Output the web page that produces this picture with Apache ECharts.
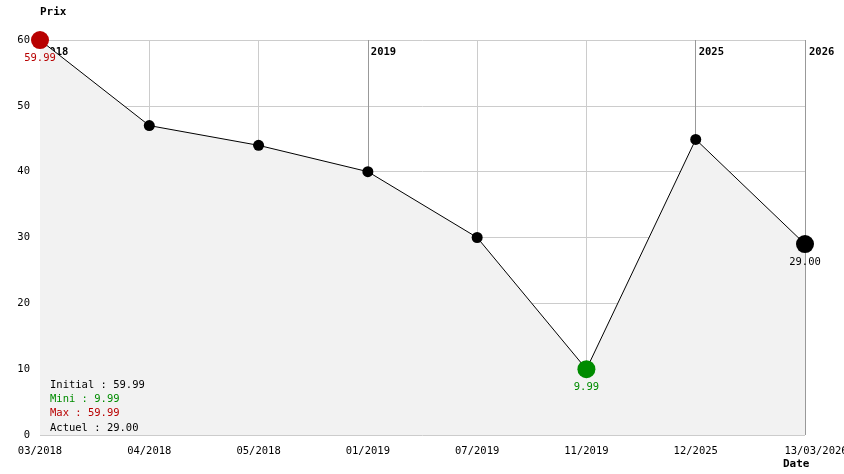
<!DOCTYPE html>
<html><head><meta charset="utf-8">
<script src="https://cdn.jsdelivr.net/npm/echarts@6/dist/echarts.min.js"></script>
<style>html,body{margin:0;padding:0;background:#fff}#c{width:844px;height:474px}</style>
</head><body><div id="c"></div>
<script>
const categories = ['03/2018','04/2018','05/2018','01/2019','07/2019','11/2019','12/2025','13/03/2026'];
const prices = [59.99, 47, 44, 40, 30, 9.99, 44.9, 29.00];
const yearLabels = ['2018','','','2019','','','2025','2026'];
const yTicks = [0,10,20,30,40,50,60];
const stats = {initial: '59.99', mini: '9.99', max: '59.99', actuel: '29.00'};

const FONT = '"DejaVu Sans Mono", "Liberation Mono", monospace';
const RED = '#b80000', GREEN = '#008c00';
const minIdx = prices.indexOf(Math.min(...prices));
const maxIdx = prices.indexOf(Math.max(...prices));
const lastIdx = prices.length - 1;

const data = prices.map((v, i) => {
  const d = {value: v};
  if (i === maxIdx || i === minIdx || i === lastIdx) {
    const col = i === maxIdx ? RED : (i === minIdx ? GREEN : '#000');
    d.symbolSize = 18;
    d.itemStyle = {color: col};
    d.label = {show: true, position: 'bottom', distance: 4, color: col,
      fontFamily: FONT, fontSize: 10.5, formatter: v.toFixed(2)};
  }
  return d;
});

const chart = echarts.init(document.getElementById('c'));
chart.setOption({
  animation: false,
  backgroundColor: '#fff',
  grid: {left: 40, right: 39, top: 40, bottom: 39, containLabel: false, outerBoundsMode: 'none'},
  title: [
    {text: 'Prix', left: 40, top: 7, padding: 0, textStyle: {fontFamily: FONT, fontSize: 11, fontWeight: 'bold', color: '#000'}},
    {text: 'Date', left: 783, top: 459, padding: 0, textStyle: {fontFamily: FONT, fontSize: 11, fontWeight: 'bold', color: '#000'}},
    {text: [
        '{k|Initial : ' + stats.initial + '}',
        '{g|Mini : ' + stats.mini + '}',
        '{r|Max : ' + stats.max + '}',
        '{k|Actuel : ' + stats.actuel + '}'
      ].join('\n'),
      left: 50, top: 378, padding: 0,
      textStyle: {fontFamily: FONT, fontSize: 10.5, fontWeight: 'normal', lineHeight: 14.3,
        rich: {
          k: {color: '#000', fontFamily: FONT, fontSize: 10.5, lineHeight: 14.3},
          g: {color: GREEN, fontFamily: FONT, fontSize: 10.5, lineHeight: 14.3},
          r: {color: RED, fontFamily: FONT, fontSize: 10.5, lineHeight: 14.3}
        }}}
  ],
  xAxis: [
    {type: 'category', data: categories, boundaryGap: false, position: 'bottom',
     axisLine: {show: false}, axisTick: {show: false},
     splitLine: {show: true, lineStyle: {color: '#cccccc', width: 1}},
     axisLabel: {interval: 0, margin: 11, color: '#000', fontFamily: FONT, fontSize: 10.5,
       hideOverlap: false,
       formatter: (v, i) => i === lastIdx ? '{l|' + v + '}' : v,
       rich: {l: {padding: [0, 0, 0, 22], fontFamily: FONT, fontSize: 10.5, color: '#000'}}}},
    {type: 'category', data: categories, boundaryGap: false, position: 'top',
     axisLine: {show: false}, axisTick: {show: false},
     splitLine: {show: true, interval: (i) => yearLabels[i] !== '' && i !== 0, lineStyle: {color: '#999999', width: 1}},
     axisLabel: {interval: 0, inside: true, margin: 7, align: 'left', color: '#000', fontFamily: FONT,
       fontSize: 10.5, fontWeight: 'bold',
       formatter: (v, i) => yearLabels[i] ? (i === lastIdx ? '{e|' + yearLabels[i] + '}' : '{y|' + yearLabels[i] + '}') : '',
       rich: {
         y: {padding: [0, 0, 0, 3], fontFamily: FONT, fontSize: 10.5, fontWeight: 'bold', color: '#000'},
         e: {padding: [0, 0, 0, 4], fontFamily: FONT, fontSize: 10.5, fontWeight: 'bold', color: '#000'}
       }}}
  ],
  yAxis: {type: 'value', min: yTicks[0], max: yTicks[yTicks.length - 1], interval: 10,
    axisLine: {show: false}, axisTick: {show: false},
    splitLine: {show: true, lineStyle: {color: '#cccccc', width: 1}},
    axisLabel: {margin: 10, color: '#000', fontFamily: FONT, fontSize: 10.5}},
  series: [{
    type: 'line', data: data, xAxisIndex: 0,
    symbol: 'circle', symbolSize: 11,
    itemStyle: {color: '#000'},
    lineStyle: {color: '#000', width: 1},
    areaStyle: {color: '#f2f2f2', opacity: 1},
    z: 3
  }]
});
</script>
</body></html>
